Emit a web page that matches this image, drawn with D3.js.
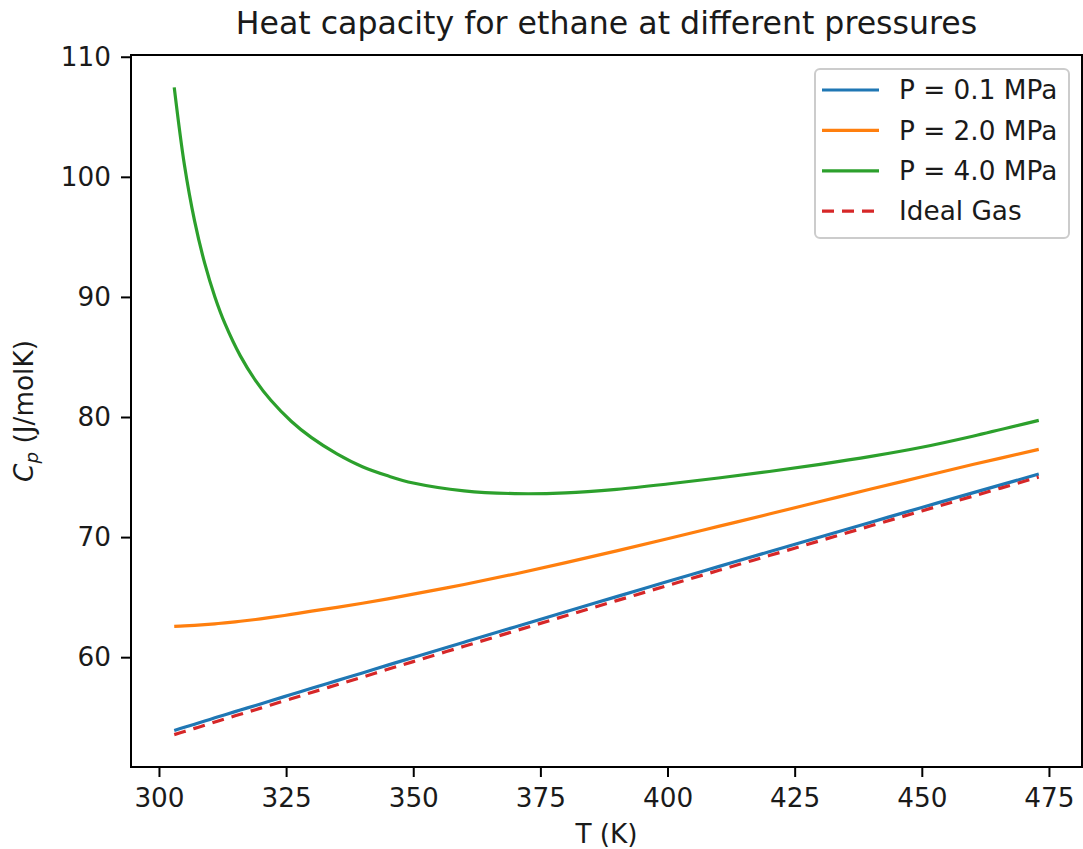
<!DOCTYPE html>
<html>
<head>
<meta charset="utf-8">
<script src="https://cdn.jsdelivr.net/npm/d3@7"></script>
<style>
  body { margin: 0; background: #fff; }
  text { font-family: "DejaVu Sans", sans-serif; fill: #1a1a1a; }
</style>
</head>
<body>
<svg id="chart" width="1083" height="849"></svg>
<script>
// Temperatures (K)
const temps = [303, 305, 307, 309, 311, 313, 316, 319, 322, 326, 330, 335, 340, 345, 350, 360, 370, 380, 390, 400, 410, 420, 430, 440, 450, 460, 473];
// Cp (J/molK) series
const cp01 = [53.90, 54.16, 54.42, 54.68, 54.95, 55.21, 55.60, 55.98, 56.37, 56.89, 57.41, 58.05, 58.69, 59.34, 59.98, 61.25, 62.52, 63.79, 65.04, 66.30, 67.54, 68.78, 70.01, 71.24, 72.47, 73.68, 75.25];
const cp20 = [62.56, 62.60, 62.65, 62.71, 62.78, 62.86, 62.99, 63.14, 63.31, 63.56, 63.83, 64.15, 64.49, 64.86, 65.25, 66.05, 66.93, 67.87, 68.85, 69.86, 70.89, 71.92, 72.96, 74.00, 75.02, 76.04, 77.30];
const cp40 = [107.45, 101.0, 96.33, 92.79, 90.00, 87.75, 85.09, 83.03, 81.39, 79.65, 78.28, 76.93, 75.86, 75.10, 74.50, 73.85, 73.62, 73.68, 73.98, 74.42, 74.92, 75.46, 76.06, 76.72, 77.48, 78.40, 79.72];
const cpIdeal = [53.55, 53.81, 54.07, 54.33, 54.60, 54.86, 55.25, 55.63, 56.02, 56.54, 57.06, 57.70, 58.34, 58.99, 59.63, 60.91, 62.18, 63.45, 64.71, 65.97, 67.22, 68.46, 69.70, 70.94, 72.18, 73.40, 75.00];
const seriesNames = ["P = 0.1 MPa", "P = 2.0 MPa", "P = 4.0 MPa", "Ideal Gas"];
const xTicks = [300, 325, 350, 375, 400, 425, 450, 475];
const yTicks = [60, 70, 80, 90, 100, 110];
const titleText = "Heat capacity for ethane at different pressures";
const xLabel = "T (K)";

const colors = ["#1f77b4", "#ff7f0e", "#2ca02c", "#d62728"];
const dashes = [null, null, null, "12,8"];
const allSeries = [cp01, cp20, cp40, cpIdeal];

const svg = d3.select("#chart");
const mLeft = 131, mRight = 1082, mTop = 55, mBottom = 767;

const xExt = d3.extent(temps);
const xPad = (xExt[1] - xExt[0]) * 0.05;
const allY = allSeries.flat();
const yExt = d3.extent(allY);
const yPad = (yExt[1] - yExt[0]) * 0.05;

const x = d3.scaleLinear().domain([xExt[0] - xPad, xExt[1] + xPad]).range([mLeft, mRight]);
const y = d3.scaleLinear().domain([yExt[0] - yPad, yExt[1] + yPad]).range([mBottom, mTop]);

const FS = 26.3;

// Lines
const line = d3.line().x((d, i) => x(temps[i])).y(d => y(d)).curve(d3.curveCatmullRom.alpha(0.5));
allSeries.forEach((s, k) => {
  const p = svg.append("path").datum(s)
    .attr("d", line)
    .attr("fill", "none")
    .attr("stroke", colors[k])
    .attr("stroke-width", 3.2)
    .attr("stroke-linecap", "butt");
  if (dashes[k]) p.attr("stroke-dasharray", dashes[k]);
});

// Axes frame
svg.append("rect").attr("x", mLeft).attr("y", mTop).attr("width", mRight - mLeft).attr("height", mBottom - mTop)
  .attr("fill", "none").attr("stroke", "#000").attr("stroke-width", 2);

// X axis
const xAxis = d3.axisBottom(x).tickValues(xTicks).tickSize(10).tickPadding(11);
const gx = svg.append("g").attr("transform", `translate(0,${mBottom})`).call(xAxis);
gx.select(".domain").remove();
gx.selectAll(".tick line").attr("stroke", "#000").attr("stroke-width", 2);
gx.selectAll(".tick text").attr("font-size", FS).attr("font-family", "DejaVu Sans").attr("fill", "#1a1a1a");

// Y axis
const yAxis = d3.axisLeft(y).tickValues(yTicks).tickSize(10).tickPadding(10);
const gy = svg.append("g").attr("transform", `translate(${mLeft},0)`).call(yAxis);
gy.select(".domain").remove();
gy.selectAll(".tick line").attr("stroke", "#000").attr("stroke-width", 2);
gy.selectAll(".tick text").attr("font-size", FS).attr("font-family", "DejaVu Sans").attr("fill", "#1a1a1a");

// Title
svg.append("text").attr("x", (mLeft + mRight) / 2).attr("y", 34)
  .attr("text-anchor", "middle").attr("font-size", 31.6).text(titleText);

// X label
svg.append("text").attr("x", (mLeft + mRight) / 2).attr("y", 843)
  .attr("text-anchor", "middle").attr("font-size", FS).text(xLabel);

// Y label
const yl = svg.append("text").attr("transform", `translate(33,${(mTop + mBottom) / 2}) rotate(-90)`)
  .attr("text-anchor", "middle").attr("font-size", FS);
yl.append("tspan").attr("font-style", "italic").text("C");
yl.append("tspan").attr("font-style", "italic").attr("font-size", FS * 0.7).attr("dy", 5).text("p");
yl.append("tspan").attr("dy", -5).text(" (J/molK)");

// Legend
const lg = svg.append("g");
lg.append("rect").attr("x", 815).attr("y", 69).attr("width", 254).attr("height", 169)
  .attr("rx", 5).attr("fill", "#fff").attr("fill-opacity", 0.8)
  .attr("stroke", "#cccccc").attr("stroke-width", 2);
seriesNames.forEach((name, k) => {
  const cy = 90 + k * 40.4;
  const l = lg.append("line").attr("x1", 822).attr("x2", 879).attr("y1", cy).attr("y2", cy)
    .attr("stroke", colors[k]).attr("stroke-width", 3.2);
  if (dashes[k]) l.attr("stroke-dasharray", dashes[k]);
  lg.append("text").attr("x", 899).attr("y", cy).attr("dy", "0.35em")
    .attr("font-size", FS).text(name);
});
</script>
</body>
</html>
